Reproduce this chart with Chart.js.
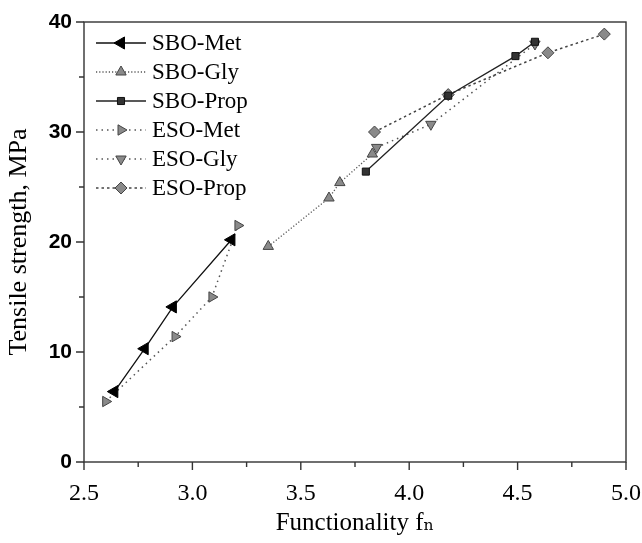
<!DOCTYPE html>
<html><head><meta charset="utf-8">
<script src="https://cdn.jsdelivr.net/npm/chart.js@4.4.1/dist/chart.umd.min.js"></script>
<style>html,body{margin:0;padding:0;background:#fff}</style>
</head><body>
<canvas id="c" width="642" height="543"></canvas>
<script>
// ---- data ----
const seriesNames = ["SBO-Met", "SBO-Gly", "SBO-Prop", "ESO-Met", "ESO-Gly", "ESO-Prop"];
const sboMetX  = [2.64, 2.78, 2.91, 3.18];
const sboMetY  = [6.4, 10.3, 14.1, 20.2];
const sboGlyX  = [3.35, 3.63, 3.68, 3.83];
const sboGlyY  = [19.6, 24.0, 25.4, 28.0];
const sboPropX = [3.80, 4.18, 4.49, 4.58];
const sboPropY = [26.4, 33.3, 36.9, 38.2];
const esoMetX  = [2.60, 2.92, 3.09, 3.21];
const esoMetY  = [5.5, 11.4, 15.0, 21.5];
const esoGlyX  = [3.85, 4.10, 4.58];
const esoGlyY  = [28.6, 30.7, 38.0];
const esoPropX = [3.84, 4.18, 4.64, 4.90];
const esoPropY = [30.0, 33.4, 37.2, 38.9];
const xTickLabels = ["2.5", "3.0", "3.5", "4.0", "4.5", "5.0"];
const yTickLabels = ["0", "10", "20", "30", "40"];

function pts(xs, ys) { return xs.map((x, i) => ({x: x, y: ys[i]})); }

const styles = [
  {pointStyle: 'triangle', rot: -90, r: 7, fill: '#000', stroke: '#000', line: '#111', dash: [], lw: 1.3},
  {pointStyle: 'triangle', rot: 0,   r: 6, fill: '#8a8a8a', stroke: '#444', line: '#555', dash: [1.2, 2], lw: 1.3},
  {pointStyle: 'rect',     rot: 0,   r: 5, fill: '#333', stroke: '#111', line: '#222', dash: [], lw: 1.3},
  {pointStyle: 'triangle', rot: 90,  r: 6, fill: '#8a8a8a', stroke: '#444', line: '#555', dash: [1.5, 4], lw: 1.5},
  {pointStyle: 'triangle', rot: 180, r: 6, fill: '#8a8a8a', stroke: '#444', line: '#555', dash: [1.5, 4], lw: 1.5},
  {pointStyle: 'rectRot',  rot: 0,   r: 6, fill: '#8a8a8a', stroke: '#444', line: '#444', dash: [2.5, 3], lw: 1.5}
];
const dataList = [pts(sboMetX, sboMetY), pts(sboGlyX, sboGlyY), pts(sboPropX, sboPropY),
                  pts(esoMetX, esoMetY), pts(esoGlyX, esoGlyY), pts(esoPropX, esoPropY)];

const datasets = seriesNames.map((name, i) => {
  const s = styles[i];
  return {
    label: name, data: dataList[i], showLine: true,
    borderColor: s.line, borderWidth: s.lw, borderDash: s.dash,
    pointStyle: s.pointStyle, pointRotation: s.rot, pointRadius: s.r,
    pointBackgroundColor: s.fill, pointBorderColor: s.stroke, pointBorderWidth: 1,
    pointHoverRadius: s.r
  };
});

const frameAndTicks = {
  id: 'frameAndTicks',
  afterDraw(chart) {
    const {ctx, chartArea: a, scales: {x, y}} = chart;
    ctx.save();
    ctx.strokeStyle = '#333'; ctx.lineWidth = 1.4; ctx.setLineDash([]);
    ctx.strokeRect(a.left, a.top, a.right - a.left, a.bottom - a.top);
    ctx.beginPath();
    for (let v = 2.5; v <= 5.0001; v += 0.25) {
      const px = x.getPixelForValue(v);
      const major = Math.abs(v * 2 - Math.round(v * 2)) < 1e-6;
      ctx.moveTo(px, a.bottom); ctx.lineTo(px, a.bottom + (major ? 8 : 5));
    }
    for (let v = 0; v <= 40.001; v += 5) {
      const py = y.getPixelForValue(v);
      const major = v % 10 === 0;
      ctx.moveTo(a.left, py); ctx.lineTo(a.left - (major ? 8 : 5), py);
    }
    ctx.stroke();
    ctx.restore();
  }
};

const insideLegend = {
  id: 'insideLegend',
  afterDraw(chart) {
    const ctx = chart.ctx;
    ctx.save();
    chart.data.datasets.forEach((ds, i) => {
      const s = styles[i];
      const yy = 43 + i * 29;
      ctx.strokeStyle = s.line; ctx.lineWidth = s.lw; ctx.setLineDash(s.dash);
      ctx.beginPath(); ctx.moveTo(96, yy); ctx.lineTo(146, yy); ctx.stroke();
      ctx.setLineDash([]);
      ctx.fillStyle = s.fill; ctx.strokeStyle = s.stroke; ctx.lineWidth = 1;
      Chart.helpers.drawPoint(ctx, {pointStyle: s.pointStyle, rotation: s.rot, radius: s.r, borderWidth: 1}, 121, yy);
      ctx.fillStyle = '#000';
      ctx.font = '23px "Liberation Serif", "Times New Roman", serif';
      ctx.textAlign = 'left'; ctx.textBaseline = 'middle';
      ctx.fillText(ds.label, 152, yy + 1);
    });
    ctx.restore();
  }
};

new Chart(document.getElementById('c'), {
  type: 'scatter',
  data: {datasets},
  options: {
    responsive: false, animation: false, devicePixelRatio: 1,
    layout: {padding: {top: 22, right: 16, left: 0, bottom: 0}},
    plugins: {legend: {display: false}, tooltip: {enabled: false}},
    scales: {
      x: {
        type: 'linear', min: 2.5, max: 5.0,
        afterFit(scale) { scale.height = 81; scale.paddingLeft = 0; scale.paddingRight = 0; },
        grid: {display: false, drawTicks: false, tickLength: 0},
        border: {display: false},
        ticks: {
          stepSize: 0.5, padding: 17, color: '#000', maxRotation: 0,
          font: {family: '"Liberation Serif", serif', size: 24},
          callback(v) { const i = xTickLabels.indexOf(Number(v).toFixed(1)); return i >= 0 ? xTickLabels[i] : ''; }
        },
        title: {display: true, text: 'Functionality fₙ', color: '#000',
                font: {family: '"Liberation Serif", "DejaVu Serif", serif', size: 25},
                padding: {top: 0, bottom: 5}}
      },
      y: {
        type: 'linear', min: 0, max: 40,
        afterFit(scale) { scale.width = 84; scale.paddingTop = 0; scale.paddingBottom = 0; },
        grid: {display: false, drawTicks: false, tickLength: 0},
        border: {display: false},
        ticks: {
          stepSize: 10, padding: 12, color: '#000',
          font: {family: '"Liberation Sans", Arial, sans-serif', size: 21, weight: 'bold'},
          callback(v) { const i = yTickLabels.indexOf(String(v)); return i >= 0 ? yTickLabels[i] : ''; }
        },
        title: {display: true, text: 'Tensile strength, MPa', color: '#000',
                font: {family: '"Liberation Serif", serif', size: 26},
                padding: {top: 4, bottom: 0}}
      }
    }
  },
  plugins: [frameAndTicks, insideLegend]
});
</script>
</body></html>
